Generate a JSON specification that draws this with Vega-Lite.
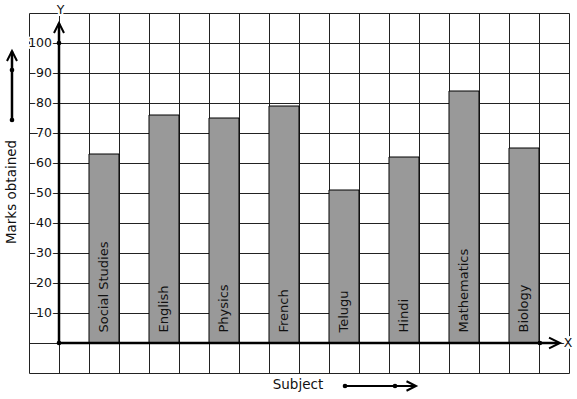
{
  "$schema": "https://vega.github.io/schema/vega-lite/v6.json",
  "width": 540,
  "height": 360,
  "autosize": "none",
  "padding": {"left": 29, "top": 13, "right": 8, "bottom": 26},
  "background": "white",
  "config": {
    "view": {"stroke": null},
    "font": "DejaVu Sans",
    "text": {"font": "DejaVu Sans"},
    "scale": {"continuousPadding": 0},
    "axis": {"grid": true, "gridColor": "#222222", "gridOpacity": 1, "gridWidth": 1, "labels": false, "ticks": false, "domain": false, "title": null, "tickCount": 50}
  },
  "data": {"values": [{}]},
  "layer": [
    {
      "data": {"values": [
        {"subject": "Social Studies", "marks": 63},
        {"subject": "English", "marks": 76},
        {"subject": "Physics", "marks": 75},
        {"subject": "French", "marks": 79},
        {"subject": "Telugu", "marks": 51},
        {"subject": "Hindi", "marks": 62},
        {"subject": "Mathematics", "marks": 84},
        {"subject": "Biology", "marks": 65}
      ]},
      "transform": [{"window": [{"op": "row_number", "as": "rank"}]}],
      "layer": [
        {
          "mark": {"type": "bar", "fill": "#999999", "stroke": "black", "strokeWidth": 1, "width": 30, "xOffset": -15},
          "encoding": {
            "x": {"field": "rank", "type": "quantitative", "scale": {"domain": [-0.5, 8.5], "nice": false, "zero": false, "padding": 0},
              "axis": {"orient": "bottom", "values": [-0.5,0,0.5,1,1.5,2,2.5,3,3.5,4,4.5,5,5.5,6,6.5,7,7.5,8,8.5], "tickCount": 50, "grid": true, "labels": false, "ticks": false, "domain": false, "title": null}},
            "y": {"field": "marks", "type": "quantitative", "scale": {"domain": [-10, 110], "nice": false, "zero": false, "padding": 0},
              "axis": {"orient": "left", "values": [-10,0,10,20,30,40,50,60,70,80,90,100,110], "tickCount": 50, "grid": true, "labels": false, "ticks": false, "domain": false, "title": null}},
            "y2": {"datum": 0}
          }
        },
        {
          "mark": {"type": "text", "angle": 270, "align": "left", "baseline": "middle", "fontSize": 13, "color": "#111111", "xOffset": -15},
          "encoding": {
            "x": {"field": "rank", "type": "quantitative", "scale": {"domain": [-0.5, 8.5], "nice": false, "zero": false, "padding": 0}},
            "y": {"datum": 3.5, "type": "quantitative", "scale": {"domain": [-10, 110], "nice": false, "zero": false, "padding": 0}},
            "text": {"field": "subject"}
          }
        }
      ]
    },
    {
      "mark": {"type": "rule", "color": "black", "strokeWidth": 2.5},
      "encoding": {"x": {"datum": 0, "type": "quantitative", "scale": {"domain": [-0.5, 8.5], "nice": false, "zero": false, "padding": 0}}, "y": {"datum": 0, "type": "quantitative", "scale": {"domain": [-10, 110], "nice": false, "zero": false, "padding": 0}}, "y2": {"datum": 106.5}}
    },
    {
      "mark": {"type": "rule", "color": "black", "strokeWidth": 2.5},
      "encoding": {"x": {"datum": 0, "type": "quantitative", "scale": {"domain": [-0.5, 8.5], "nice": false, "zero": false, "padding": 0}}, "x2": {"datum": 8.325}, "y": {"datum": 0, "type": "quantitative", "scale": {"domain": [-10, 110], "nice": false, "zero": false, "padding": 0}}}
    },
    {
      "mark": {"type": "rule", "color": "black", "strokeWidth": 2.5},
      "encoding": {"x": {"datum": -0.7835, "type": "quantitative", "scale": {"domain": [-0.5, 8.5], "nice": false, "zero": false, "padding": 0}}, "y": {"datum": 74.33, "type": "quantitative", "scale": {"domain": [-10, 110], "nice": false, "zero": false, "padding": 0}}, "y2": {"datum": 97.2}}
    },
    {
      "mark": {"type": "rule", "color": "black", "strokeWidth": 2},
      "encoding": {"x": {"datum": 4.767, "type": "quantitative", "scale": {"domain": [-0.5, 8.5], "nice": false, "zero": false, "padding": 0}}, "x2": {"datum": 5.925}, "y": {"datum": -14.33, "type": "quantitative", "scale": {"domain": [-10, 110], "nice": false, "zero": false, "padding": 0}}}
    },
    {
      "mark": {"type": "point", "filled": true, "color": "black", "size": 22, "opacity": 1},
      "encoding": {"x": {"datum": 0, "type": "quantitative", "scale": {"domain": [-0.5, 8.5], "nice": false, "zero": false, "padding": 0}}, "y": {"datum": 0, "type": "quantitative", "scale": {"domain": [-10, 110], "nice": false, "zero": false, "padding": 0}}}
    },
    {
      "mark": {"type": "point", "filled": true, "color": "black", "size": 22, "opacity": 1},
      "encoding": {"x": {"datum": 0, "type": "quantitative", "scale": {"domain": [-0.5, 8.5], "nice": false, "zero": false, "padding": 0}}, "y": {"datum": 100, "type": "quantitative", "scale": {"domain": [-10, 110], "nice": false, "zero": false, "padding": 0}}}
    },
    {
      "mark": {"type": "point", "filled": true, "color": "black", "size": 22, "opacity": 1},
      "encoding": {"x": {"datum": 8.015, "type": "quantitative", "scale": {"domain": [-0.5, 8.5], "nice": false, "zero": false, "padding": 0}}, "y": {"datum": 0, "type": "quantitative", "scale": {"domain": [-10, 110], "nice": false, "zero": false, "padding": 0}}}
    },
    {
      "mark": {"type": "point", "filled": true, "color": "black", "size": 22, "opacity": 1},
      "encoding": {"x": {"datum": -0.7835, "type": "quantitative", "scale": {"domain": [-0.5, 8.5], "nice": false, "zero": false, "padding": 0}}, "y": {"datum": 91, "type": "quantitative", "scale": {"domain": [-10, 110], "nice": false, "zero": false, "padding": 0}}}
    },
    {
      "mark": {"type": "point", "filled": true, "color": "black", "size": 22, "opacity": 1},
      "encoding": {"x": {"datum": -0.7835, "type": "quantitative", "scale": {"domain": [-0.5, 8.5], "nice": false, "zero": false, "padding": 0}}, "y": {"datum": 74.33, "type": "quantitative", "scale": {"domain": [-10, 110], "nice": false, "zero": false, "padding": 0}}}
    },
    {
      "mark": {"type": "point", "filled": true, "color": "black", "size": 22, "opacity": 1},
      "encoding": {"x": {"datum": 4.767, "type": "quantitative", "scale": {"domain": [-0.5, 8.5], "nice": false, "zero": false, "padding": 0}}, "y": {"datum": -14.33, "type": "quantitative", "scale": {"domain": [-10, 110], "nice": false, "zero": false, "padding": 0}}}
    },
    {
      "mark": {"type": "point", "filled": true, "color": "black", "size": 22, "opacity": 1},
      "encoding": {"x": {"datum": 5.6, "type": "quantitative", "scale": {"domain": [-0.5, 8.5], "nice": false, "zero": false, "padding": 0}}, "y": {"datum": -14.33, "type": "quantitative", "scale": {"domain": [-10, 110], "nice": false, "zero": false, "padding": 0}}}
    },
    {
      "mark": {"type": "point", "shape": "M-1,2L0,0L1,2", "filled": false, "stroke": "black", "strokeWidth": 2, "size": 100, "opacity": 1},
      "encoding": {"x": {"datum": 0, "type": "quantitative", "scale": {"domain": [-0.5, 8.5], "nice": false, "zero": false, "padding": 0}}, "y": {"datum": 106.67, "type": "quantitative", "scale": {"domain": [-10, 110], "nice": false, "zero": false, "padding": 0}}}
    },
    {
      "mark": {"type": "point", "shape": "M-1,2L0,0L1,2", "filled": false, "stroke": "black", "strokeWidth": 2, "size": 100, "opacity": 1},
      "encoding": {"x": {"datum": -0.7835, "type": "quantitative", "scale": {"domain": [-0.5, 8.5], "nice": false, "zero": false, "padding": 0}}, "y": {"datum": 97.33, "type": "quantitative", "scale": {"domain": [-10, 110], "nice": false, "zero": false, "padding": 0}}}
    },
    {
      "mark": {"type": "point", "shape": "M-2,-1L0,0L-2,1", "filled": false, "stroke": "black", "strokeWidth": 2, "size": 120, "opacity": 1},
      "encoding": {"x": {"datum": 8.35, "type": "quantitative", "scale": {"domain": [-0.5, 8.5], "nice": false, "zero": false, "padding": 0}}, "y": {"datum": 0, "type": "quantitative", "scale": {"domain": [-10, 110], "nice": false, "zero": false, "padding": 0}}}
    },
    {
      "mark": {"type": "point", "shape": "M-2,-1L0,0L-2,1", "filled": false, "stroke": "black", "strokeWidth": 2, "size": 90, "opacity": 1},
      "encoding": {"x": {"datum": 5.95, "type": "quantitative", "scale": {"domain": [-0.5, 8.5], "nice": false, "zero": false, "padding": 0}}, "y": {"datum": -14.33, "type": "quantitative", "scale": {"domain": [-10, 110], "nice": false, "zero": false, "padding": 0}}}
    },
    {
      "data": {"values": [{"v": 10}, {"v": 20}, {"v": 30}, {"v": 40}, {"v": 50}, {"v": 60}, {"v": 70}, {"v": 80}, {"v": 90}, {"v": 100}]},
      "layer": [
        {
          "mark": {"type": "text", "align": "right", "baseline": "middle", "fontSize": 12.5, "fill": "white", "stroke": "white", "strokeWidth": 3.5},
          "encoding": {"x": {"datum": -0.1167, "type": "quantitative", "scale": {"domain": [-0.5, 8.5], "nice": false, "zero": false, "padding": 0}}, "y": {"field": "v", "type": "quantitative", "scale": {"domain": [-10, 110], "nice": false, "zero": false, "padding": 0}}, "text": {"field": "v"}}
        },
        {
          "mark": {"type": "text", "align": "right", "baseline": "middle", "fontSize": 12.5, "color": "#111111"},
          "encoding": {"x": {"datum": -0.1167, "type": "quantitative", "scale": {"domain": [-0.5, 8.5], "nice": false, "zero": false, "padding": 0}}, "y": {"field": "v", "type": "quantitative", "scale": {"domain": [-10, 110], "nice": false, "zero": false, "padding": 0}}, "text": {"field": "v"}}
        }
      ]
    },
    {
      "mark": {"type": "text", "text": "Y", "align": "center", "baseline": "middle", "fontSize": 12.5, "fill": "white", "stroke": "white", "strokeWidth": 4},
      "encoding": {"x": {"datum": 0.025, "type": "quantitative", "scale": {"domain": [-0.5, 8.5], "nice": false, "zero": false, "padding": 0}}, "y": {"datum": 111.0, "type": "quantitative", "scale": {"domain": [-10, 110], "nice": false, "zero": false, "padding": 0}}}
    },
    {
      "mark": {"type": "text", "text": "Y", "align": "center", "baseline": "middle", "fontSize": 12.5, "color": "#111111"},
      "encoding": {"x": {"datum": 0.025, "type": "quantitative", "scale": {"domain": [-0.5, 8.5], "nice": false, "zero": false, "padding": 0}}, "y": {"datum": 111.0, "type": "quantitative", "scale": {"domain": [-10, 110], "nice": false, "zero": false, "padding": 0}}}
    },
    {
      "mark": {"type": "text", "text": "X", "align": "center", "baseline": "middle", "fontSize": 12.5, "fill": "white", "stroke": "white", "strokeWidth": 4},
      "encoding": {"x": {"datum": 8.485, "type": "quantitative", "scale": {"domain": [-0.5, 8.5], "nice": false, "zero": false, "padding": 0}}, "y": {"datum": 0.1, "type": "quantitative", "scale": {"domain": [-10, 110], "nice": false, "zero": false, "padding": 0}}}
    },
    {
      "mark": {"type": "text", "text": "X", "align": "center", "baseline": "middle", "fontSize": 12.5, "color": "#111111"},
      "encoding": {"x": {"datum": 8.485, "type": "quantitative", "scale": {"domain": [-0.5, 8.5], "nice": false, "zero": false, "padding": 0}}, "y": {"datum": 0.1, "type": "quantitative", "scale": {"domain": [-10, 110], "nice": false, "zero": false, "padding": 0}}}
    },
    {
      "mark": {"type": "text", "text": "Marks obtained", "angle": 270, "align": "center", "baseline": "middle", "fontSize": 13.5, "color": "#111111"},
      "encoding": {"x": {"datum": -0.7835, "type": "quantitative", "scale": {"domain": [-0.5, 8.5], "nice": false, "zero": false, "padding": 0}}, "y": {"datum": 50.33, "type": "quantitative", "scale": {"domain": [-10, 110], "nice": false, "zero": false, "padding": 0}}}
    },
    {
      "mark": {"type": "text", "text": "Subject", "align": "center", "baseline": "middle", "fontSize": 13.5, "color": "#111111"},
      "encoding": {"x": {"datum": 3.983, "type": "quantitative", "scale": {"domain": [-0.5, 8.5], "nice": false, "zero": false, "padding": 0}}, "y": {"datum": -14.0, "type": "quantitative", "scale": {"domain": [-10, 110], "nice": false, "zero": false, "padding": 0}}}
    }
  ]
}
